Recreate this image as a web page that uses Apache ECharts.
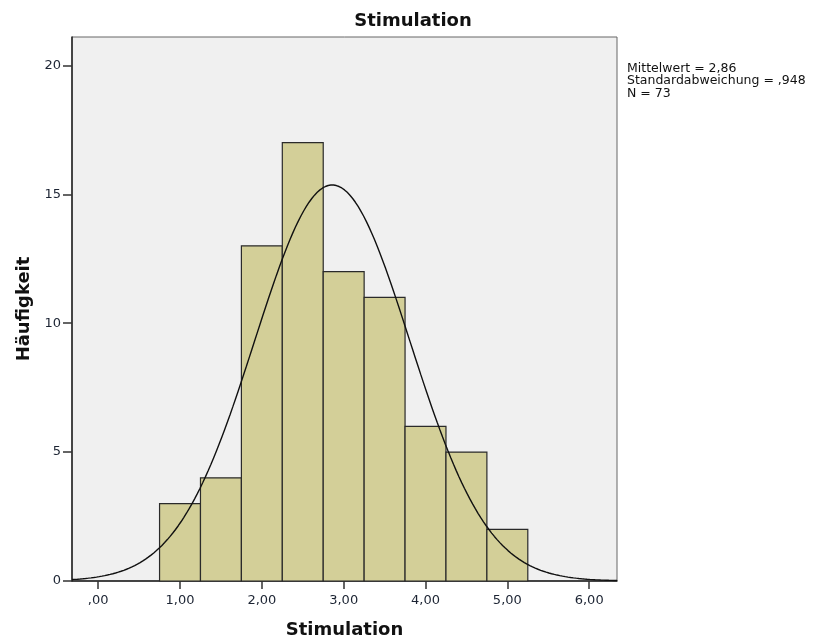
<!DOCTYPE html>
<html>
<head>
<meta charset="utf-8">
<script src="https://cdn.jsdelivr.net/npm/echarts@6/dist/echarts.min.js"></script>
<style>
  html, body { margin: 0; padding: 0; background: #fff; }
  #chart { width: 819px; height: 639px; }
</style>
</head>
<body>
<div id="chart"></div>
<script>
// Histogram bins (lower edge) and frequencies
const binStarts = [0.75, 1.25, 1.75, 2.25, 2.75, 3.25, 3.75, 4.25, 4.75];
const binWidth = 0.5;
const counts = [3, 4, 13, 17, 12, 11, 6, 5, 2];

// Summary statistics shown beside the plot
const mean = 2.86;
const stdDev = 0.948;
const n = 73;

// Axis ticks
const xTicks = [0, 1, 2, 3, 4, 5, 6];
const xTickLabels = [',00', '1,00', '2,00', '3,00', '4,00', '5,00', '6,00'];
const yTicks = [0, 5, 10, 15, 20];

const xMin = -0.32, xMax = 6.34;
const yMin = 0, yMax = 21.1;

// Fitted normal curve scaled to counts per bin
const curve = [];
const steps = 200;
for (let i = 0; i <= steps; i++) {
  const x = xMin + (xMax - xMin) * i / steps;
  const z = (x - mean) / stdDev;
  const y = n * binWidth / (stdDev * Math.sqrt(2 * Math.PI)) * Math.exp(-0.5 * z * z);
  curve.push([x, y]);
}

const barData = binStarts.map((s, i) => [s, s + binWidth, counts[i]]);

const fontFam = '"DejaVu Sans", "Liberation Sans", sans-serif';
const labelColor = '#1c2433';
const chart = echarts.init(document.getElementById('chart'), null, { renderer: 'canvas' });

chart.setOption({
  animation: false,
  backgroundColor: '#ffffff',
  title: {
    text: 'Stimulation',
    left: 408,
    textAlign: 'center',
    top: 7,
    textStyle: { fontFamily: fontFam, fontWeight: 'bold', fontSize: 18, color: '#111' }
  },
  grid: {
    left: 72, right: 202, top: 37, bottom: 58,
    outerBoundsMode: 'none',
    containLabel: false,
    show: true,
    backgroundColor: '#f0f0f0',
    borderColor: '#666',
    borderWidth: 1
  },
  xAxis: {
    type: 'value',
    min: xMin, max: xMax,
    name: 'Stimulation',
    nameLocation: 'middle',
    nameGap: 40,
    nameTextStyle: { fontFamily: fontFam, fontWeight: 'bold', fontSize: 18, color: '#111' },
    axisLine: { show: true, onZero: false, lineStyle: { color: '#222', width: 1.5 } },
    axisTick: { show: true, length: 8, customValues: xTicks, lineStyle: { color: '#333', width: 1.5 } },
    axisLabel: {
      customValues: xTicks,
      formatter: v => xTickLabels[xTicks.indexOf(Math.round(v))],
      fontFamily: fontFam, fontSize: 13, color: labelColor, margin: 13
    },
    splitLine: { show: false }
  },
  yAxis: {
    type: 'value',
    min: yMin, max: yMax,
    name: 'Häufigkeit',
    nameLocation: 'middle',
    nameGap: 37,
    nameRotate: 90,
    nameTextStyle: { fontFamily: fontFam, fontWeight: 'bold', fontSize: 18, color: '#111' },
    axisLine: { show: true, onZero: false, lineStyle: { color: '#222', width: 1.5 } },
    axisTick: { show: true, length: 9, customValues: yTicks, lineStyle: { color: '#333', width: 1.5 } },
    axisLabel: {
      customValues: yTicks,
      fontFamily: fontFam, fontSize: 13, color: labelColor, margin: 11
    },
    splitLine: { show: false }
  },
  graphic: [{
    type: 'text',
    left: 627, top: 62,
    style: {
      text: 'Mittelwert = 2,86\nStandardabweichung = ,948\nN = 73',
      fontFamily: fontFam, fontSize: 12.5, lineHeight: 12.5, fill: '#111'
    }
  }],
  series: [
    {
      type: 'custom',
      data: barData,
      renderItem: function (params, api) {
        const p0 = api.coord([api.value(0), 0]);
        const p1 = api.coord([api.value(1), api.value(2)]);
        return {
          type: 'rect',
          shape: { x: p0[0], y: p1[1], width: p1[0] - p0[0], height: p0[1] - p1[1] },
          style: { fill: '#d3cf98', stroke: '#2a2a2a', lineWidth: 1.2 }
        };
      },
      encode: { x: [0, 1], y: 2 }
    },
    {
      type: 'line',
      data: curve,
      showSymbol: false,
      smooth: false,
      lineStyle: { color: '#111', width: 1.4 },
      z: 5
    }
  ]
});
</script>
</body>
</html>
